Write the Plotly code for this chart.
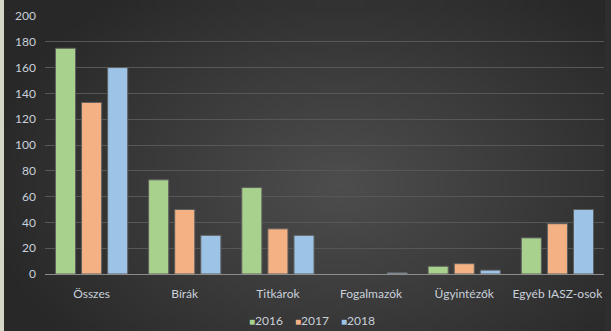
import plotly.graph_objects as go
import numpy as np
import zlib, struct, base64

categories = ["Összes", "Bírák", "Titkárok", "Fogalmazók", "Ügyintézők", "Egyéb IASZ-osok"]
years = ["2016", "2017", "2018"]
values_2016 = [175, 73, 67, 0, 6, 28]
values_2017 = [133, 50, 35, 0, 8, 39]
values_2018 = [160, 30, 30, 1, 3, 50]
colors = ["#a9d18e", "#f4b183", "#9dc3e6"]

L, R, T, B = 45, 7, 16, 57
FW, FH = 611, 331
PW, PH = FW - L - R, FH - T - B

def px(x):
    return (x - L) / PW

def py(y):
    return (FH - B - y) / PH

# radial gradient background image
W, H = 122, 66
yy, xx = np.mgrid[0:H, 0:W]
cx, cy = W * 0.55, H * 0.55
d = np.sqrt(((xx - cx) / (W * 0.6)) ** 2 + ((yy - cy) / (H * 0.75)) ** 2)
v = np.clip(78 - 38 * d, 40, 80).astype(np.uint8)
raw = b"".join(b"\x00" + bytes(np.stack([row, row, row], axis=1).flatten()) for row in v)
def chunk(t, data):
    c = struct.pack(">I", len(data)) + t + data
    return c + struct.pack(">I", zlib.crc32(t + data) & 0xffffffff)
png = b"\x89PNG\r\n\x1a\n" + chunk(b"IHDR", struct.pack(">IIBBBBB", W, H, 8, 2, 0, 0, 0)) + chunk(b"IDAT", zlib.compress(raw)) + chunk(b"IEND", b"")
uri = "data:image/png;base64," + base64.b64encode(png).decode()

fig = go.Figure()
for name, vals, col in zip(years, [values_2016, values_2017, values_2018], colors):
    fig.add_trace(go.Bar(x=categories, y=vals, name=name,
                         marker=dict(color=col,
                                     line=dict(color="#5e5e5e", width=[1 if v else 0 for v in vals]))))

legend_x = [247, 293, 339]
annotations = []
for name, col, lx in zip(years, colors, legend_x):
    annotations.append(dict(
        text=f"<span style='color:{col};font-size:10px'>■</span>{name}",
        xref="paper", yref="paper", x=px(lx), y=py(320), xanchor="left", yanchor="middle",
        showarrow=False, font=dict(family="Lato, Open Sans, sans-serif", size=12, color="#c9d1db")))

fig.update_layout(
    width=FW, height=FH,
    margin=dict(l=L, r=R, t=T, b=B),
    paper_bgcolor="#2e2e2e", plot_bgcolor="rgba(0,0,0,0)",
    barmode="group", bargap=0.16, bargroupgap=0.23,
    font=dict(family="Lato, Open Sans, sans-serif", size=12, color="#c9d1db"),
    images=[dict(source=uri, xref="paper", yref="paper", x=px(4), y=py(0),
                 sizex=(FW - 4) / PW, sizey=FH / PH, xanchor="left", yanchor="top",
                 sizing="stretch", layer="below")],
    shapes=[dict(type="rect", xref="paper", yref="paper", x0=px(0), x1=px(4),
                 y0=py(FH), y1=py(0), fillcolor="#d6d6c6", line=dict(width=0), layer="above"),
            dict(type="rect", xref="paper", yref="paper", x0=px(605), x1=px(FW),
                 y0=py(FH), y1=py(0), fillcolor="#2e2e2e", line=dict(width=0), layer="below")],
    annotations=annotations,
    showlegend=False,
)
fig.update_yaxes(range=[0, 200], dtick=20, showgrid=True, gridcolor="#575757", gridwidth=1,
                 zeroline=False, showline=False, ticks="", ticklabelstandoff=8)
fig.update_xaxes(showgrid=False, showline=True, linecolor="#8c8c8c", linewidth=1, ticks="",
                 ticklabelstandoff=9)
fig.write_html("out.html", config={"displayModeBar": False},
               post_script="document.body.style.margin='0';"
                           "document.body.style.background='#2e2e2e';"
                           "document.documentElement.style.background='#2e2e2e';"
                           "document.documentElement.style.overflow='hidden';")
